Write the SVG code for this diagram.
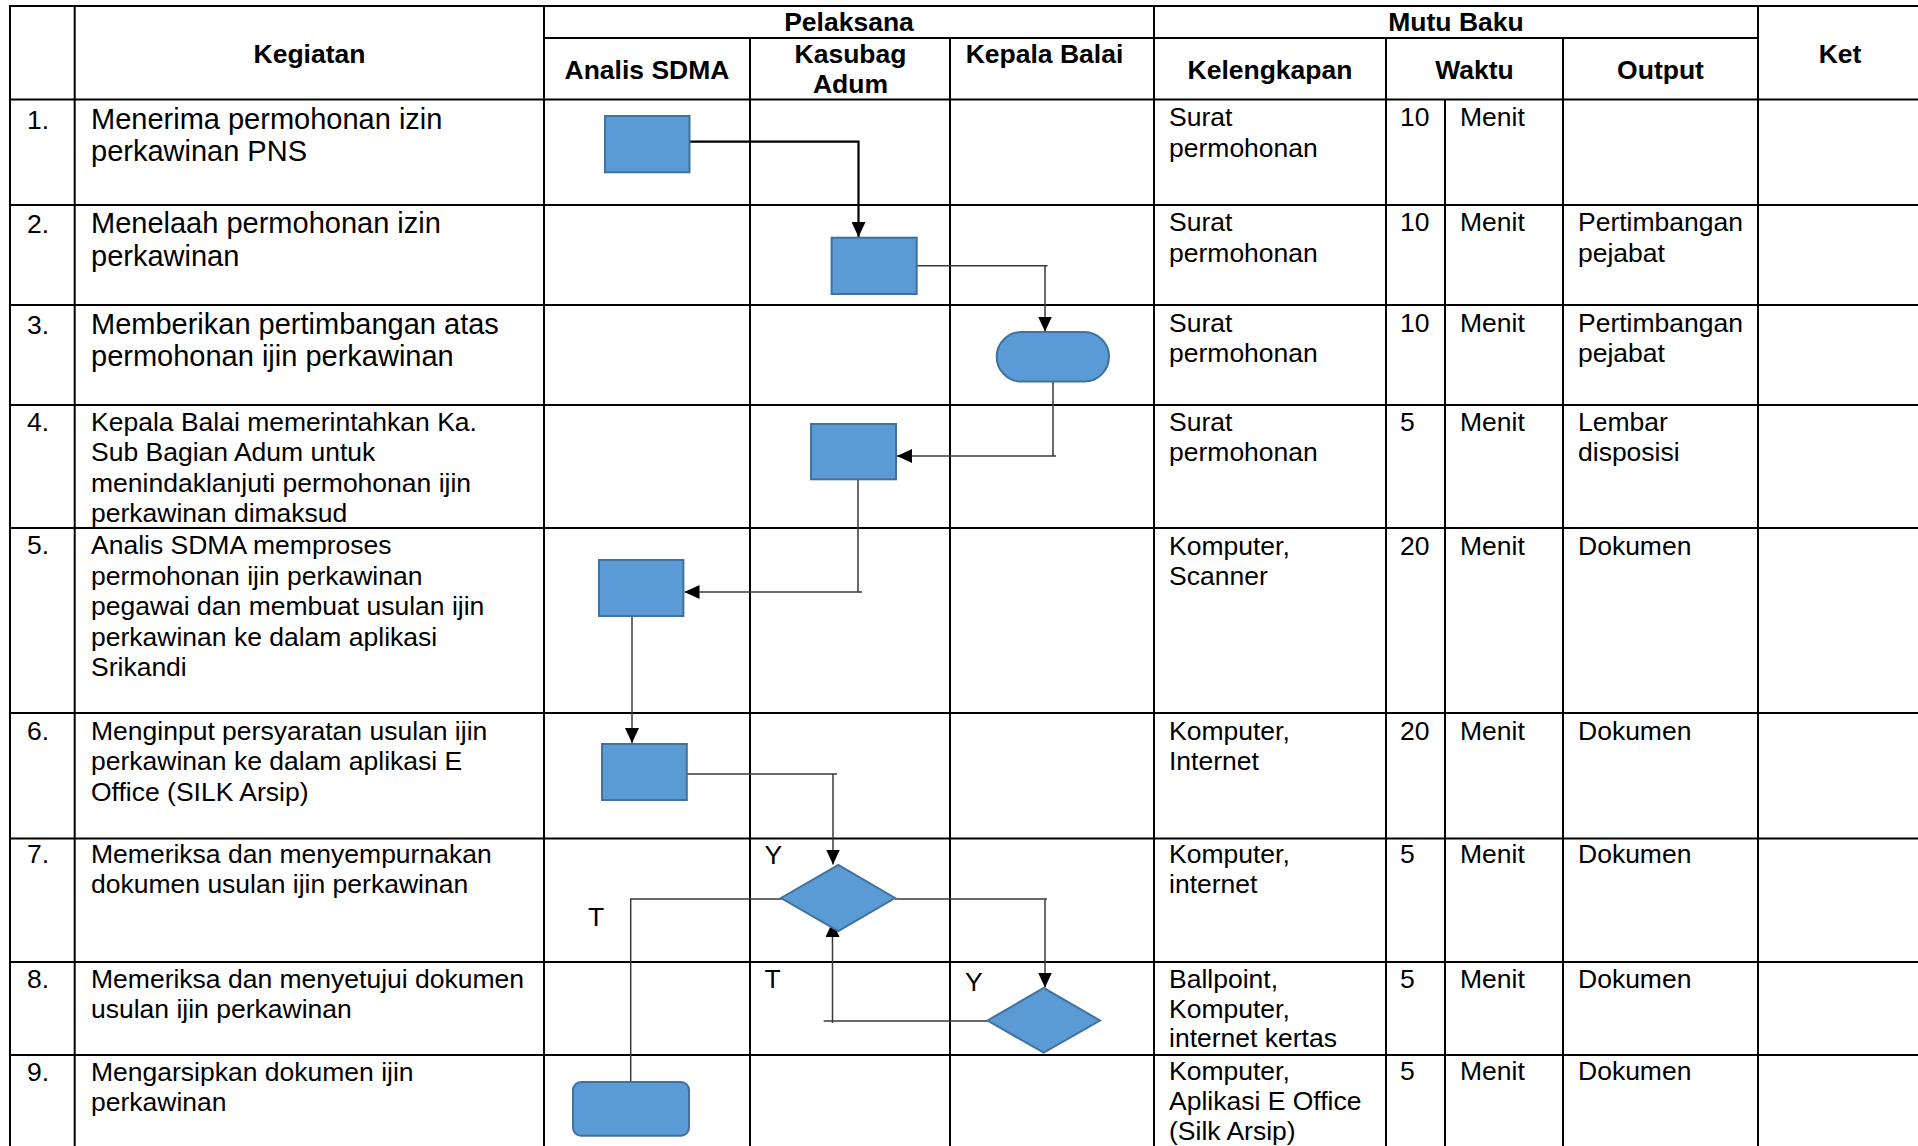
<svg xmlns="http://www.w3.org/2000/svg" width="1918" height="1146" viewBox="0 0 1918 1146">
<style>
text{font-family:"Liberation Sans",Arial,sans-serif;fill:#000}
.h{font-weight:bold;font-size:26.5px;text-anchor:middle}
.t{font-size:26.5px}
.tl{font-size:29px}
.grid line{stroke:#000;stroke-width:2}
.shape{fill:#5B9BD5;stroke:#41719C;stroke-width:2}
.conn{fill:none;stroke:#3a3a3a;stroke-width:1.5}
.connb{fill:none;stroke:#000;stroke-width:2.2}
</style>
<defs>
<marker id="arr" viewBox="0 0 15 14" markerWidth="15" markerHeight="14" refX="15" refY="7" orient="auto" markerUnits="userSpaceOnUse">
<path d="M0,0 L15,7 L0,14 z" fill="#000"/>
</marker>
</defs>
<rect x="0" y="0" width="1918" height="1146" fill="#fff"/>
<g id="grid" class="grid">
<line x1="10" y1="6" x2="1918" y2="6"/>
<line x1="544" y1="38" x2="1758" y2="38"/>
<line x1="10" y1="99.5" x2="1918" y2="99.5"/>
<line x1="10" y1="205" x2="1918" y2="205"/>
<line x1="10" y1="305" x2="1918" y2="305"/>
<line x1="10" y1="405" x2="1918" y2="405"/>
<line x1="10" y1="528" x2="1918" y2="528"/>
<line x1="10" y1="713" x2="1918" y2="713"/>
<line x1="10" y1="838.5" x2="1918" y2="838.5"/>
<line x1="10" y1="962" x2="1918" y2="962"/>
<line x1="10" y1="1055" x2="1918" y2="1055"/>
<line x1="10" y1="5" x2="10" y2="1146"/>
<line x1="74.7" y1="5" x2="74.7" y2="1146"/>
<line x1="544" y1="5" x2="544" y2="1146"/>
<line x1="750" y1="38" x2="750" y2="1146"/>
<line x1="950" y1="38" x2="950" y2="1146"/>
<line x1="1154" y1="5" x2="1154" y2="1146"/>
<line x1="1386" y1="38" x2="1386" y2="1146"/>
<line x1="1445" y1="99.5" x2="1445" y2="1146"/>
<line x1="1563" y1="38" x2="1563" y2="1146"/>
<line x1="1758" y1="5" x2="1758" y2="1146"/>
</g>
<g id="header">
<text class="h" x="849" y="31">Pelaksana</text>
<text class="h" x="1456" y="31">Mutu Baku</text>
<text class="h" x="309.5" y="63">Kegiatan</text>
<text class="h" x="647" y="79">Analis SDMA</text>
<text class="h" x="850.5" y="63">Kasubag</text>
<text class="h" x="850.5" y="93">Adum</text>
<text class="h" x="1044.5" y="63">Kepala Balai</text>
<text class="h" x="1270" y="79">Kelengkapan</text>
<text class="h" x="1474.5" y="79">Waktu</text>
<text class="h" x="1660.5" y="79">Output</text>
<text class="h" x="1840" y="63">Ket</text>
</g>
<g id="row1">
<text class="t" x="27" y="128.5">1.</text>
<text class="tl" x="91" y="128.5">Menerima permohonan izin<tspan x="91" dy="32.5">perkawinan PNS</tspan></text>
<text class="t" x="1169" y="126">Surat<tspan x="1169" dy="30.5">permohonan</tspan></text>
<text class="t" x="1400" y="126">10</text>
<text class="t" x="1460" y="126">Menit</text>
</g>
<g id="row2">
<text class="t" x="27" y="233.3">2.</text>
<text class="tl" x="91" y="233.3">Menelaah permohonan izin<tspan x="91" dy="32.5">perkawinan</tspan></text>
<text class="t" x="1169" y="231">Surat<tspan x="1169" dy="30.5">permohonan</tspan></text>
<text class="t" x="1400" y="231">10</text>
<text class="t" x="1460" y="231">Menit</text>
<text class="t" x="1578" y="231">Pertimbangan<tspan x="1578" dy="30.5">pejabat</tspan></text>
</g>
<g id="row3">
<text class="t" x="27" y="333.5">3.</text>
<text class="tl" x="91" y="333.5">Memberikan pertimbangan atas<tspan x="91" dy="32.5">permohonan ijin perkawinan</tspan></text>
<text class="t" x="1169" y="331.5">Surat<tspan x="1169" dy="30.5">permohonan</tspan></text>
<text class="t" x="1400" y="331.5">10</text>
<text class="t" x="1460" y="331.5">Menit</text>
<text class="t" x="1578" y="331.5">Pertimbangan<tspan x="1578" dy="30.5">pejabat</tspan></text>
</g>
<g id="row4">
<text class="t" x="27" y="431">4.</text>
<text class="t" x="91" y="431">Kepala Balai memerintahkan Ka.<tspan x="91" dy="30.3">Sub Bagian Adum untuk</tspan><tspan x="91" dy="30.3">menindaklanjuti permohonan ijin</tspan><tspan x="91" dy="30.3">perkawinan dimaksud</tspan></text>
<text class="t" x="1169" y="431">Surat<tspan x="1169" dy="30.3">permohonan</tspan></text>
<text class="t" x="1400" y="431">5</text>
<text class="t" x="1460" y="431">Menit</text>
<text class="t" x="1578" y="431">Lembar<tspan x="1578" dy="30.3">disposisi</tspan></text>
</g>
<g id="row5">
<text class="t" x="27" y="554">5.</text>
<text class="t" x="91" y="554">Analis SDMA memproses<tspan x="91" dy="30.5">permohonan ijin perkawinan</tspan><tspan x="91" dy="30.5">pegawai dan membuat usulan ijin</tspan><tspan x="91" dy="30.5">perkawinan ke dalam aplikasi</tspan><tspan x="91" dy="30.5">Srikandi</tspan></text>
<text class="t" x="1169" y="555">Komputer,<tspan x="1169" dy="30.3">Scanner</tspan></text>
<text class="t" x="1400" y="555">20</text>
<text class="t" x="1460" y="555">Menit</text>
<text class="t" x="1578" y="555">Dokumen</text>
</g>
<g id="row6">
<text class="t" x="27" y="740">6.</text>
<text class="t" x="91" y="740">Menginput persyaratan usulan ijin<tspan x="91" dy="30.3">perkawinan ke dalam aplikasi E</tspan><tspan x="91" dy="30.3">Office (SILK Arsip)</tspan></text>
<text class="t" x="1169" y="740">Komputer,<tspan x="1169" dy="30.3">Internet</tspan></text>
<text class="t" x="1400" y="740">20</text>
<text class="t" x="1460" y="740">Menit</text>
<text class="t" x="1578" y="740">Dokumen</text>
</g>
<g id="row7">
<text class="t" x="27" y="863">7.</text>
<text class="t" x="91" y="863">Memeriksa dan menyempurnakan<tspan x="91" dy="30.3">dokumen usulan ijin perkawinan</tspan></text>
<text class="t" x="1169" y="863">Komputer,<tspan x="1169" dy="30.3">internet</tspan></text>
<text class="t" x="1400" y="863">5</text>
<text class="t" x="1460" y="863">Menit</text>
<text class="t" x="1578" y="863">Dokumen</text>
</g>
<g id="row8">
<text class="t" x="27" y="988">8.</text>
<text class="t" x="91" y="988">Memeriksa dan menyetujui dokumen<tspan x="91" dy="30.3">usulan ijin perkawinan</tspan></text>
<text class="t" x="1169" y="988">Ballpoint,<tspan x="1169" dy="29.7">Komputer,</tspan><tspan x="1169" dy="29.7">internet kertas</tspan></text>
<text class="t" x="1400" y="988">5</text>
<text class="t" x="1460" y="988">Menit</text>
<text class="t" x="1578" y="988">Dokumen</text>
</g>
<g id="row9">
<text class="t" x="27" y="1081">9.</text>
<text class="t" x="91" y="1081">Mengarsipkan dokumen ijin<tspan x="91" dy="30.3">perkawinan</tspan></text>
<text class="t" x="1169" y="1080">Komputer,<tspan x="1169" dy="30">Aplikasi E Office</tspan><tspan x="1169" dy="29.5">(Silk Arsip)</tspan></text>
<text class="t" x="1400" y="1080">5</text>
<text class="t" x="1460" y="1080">Menit</text>
<text class="t" x="1578" y="1080">Dokumen</text>
</g>
<g id="connectors">
<path class="connb" d="M689.5,141.7 H858.5 V237" marker-end="url(#arr)"/>
<path class="conn" d="M916.7,265.7 H1047.5 M1045,265.7 V331.5" marker-end="url(#arr)"/>
<path class="conn" d="M1053,381.5 V456 H1056 M1054,456 H897" marker-end="url(#arr)"/>
<path class="conn" d="M858,479.3 V592 H862 M860,592 H684.5" marker-end="url(#arr)"/>
<path class="conn" d="M632,616 V743" marker-end="url(#arr)"/>
<path class="conn" d="M686.8,774 H837 M833,774 V864.5" marker-end="url(#arr)"/>
<path class="conn" d="M793,899 H630.7 V1082"/>
<path class="conn" d="M895,899 H1047 M1045,899 V987.5" marker-end="url(#arr)"/>
<path class="conn" d="M987.5,1021 H823.6 M832.5,1023 V922" marker-end="url(#arr)"/>
</g>
<g id="labels">
<text class="t" x="764.6" y="864">Y</text>
<text class="t" x="588" y="925.7">T</text>
<text class="t" x="764.6" y="988">T</text>
<text class="t" x="965" y="990.7">Y</text>
</g>
<g id="n1"><rect class="shape" x="605" y="116" width="84.5" height="56.3"/></g>
<g id="n2"><rect class="shape" x="831.6" y="237.7" width="85.1" height="56.3"/></g>
<g id="n3"><rect class="shape" x="996.7" y="332" width="112.3" height="49.5" rx="24.75" ry="24.75"/></g>
<g id="n4"><rect class="shape" x="811" y="424" width="85" height="55.3"/></g>
<g id="n5"><rect class="shape" x="599" y="560" width="84.4" height="56"/></g>
<g id="n6"><rect class="shape" x="602" y="744" width="84.8" height="56"/></g>
<g id="n7"><polygon class="shape" points="781,898 838.3,865 895,898 838.3,931"/></g>
<g id="n8"><polygon class="shape" points="987.5,1020.5 1043.7,988 1100,1020.5 1043.7,1052.7"/></g>
<g id="n9"><rect class="shape" x="573" y="1082" width="116" height="53.7" rx="8" ry="8"/></g>
</svg>
